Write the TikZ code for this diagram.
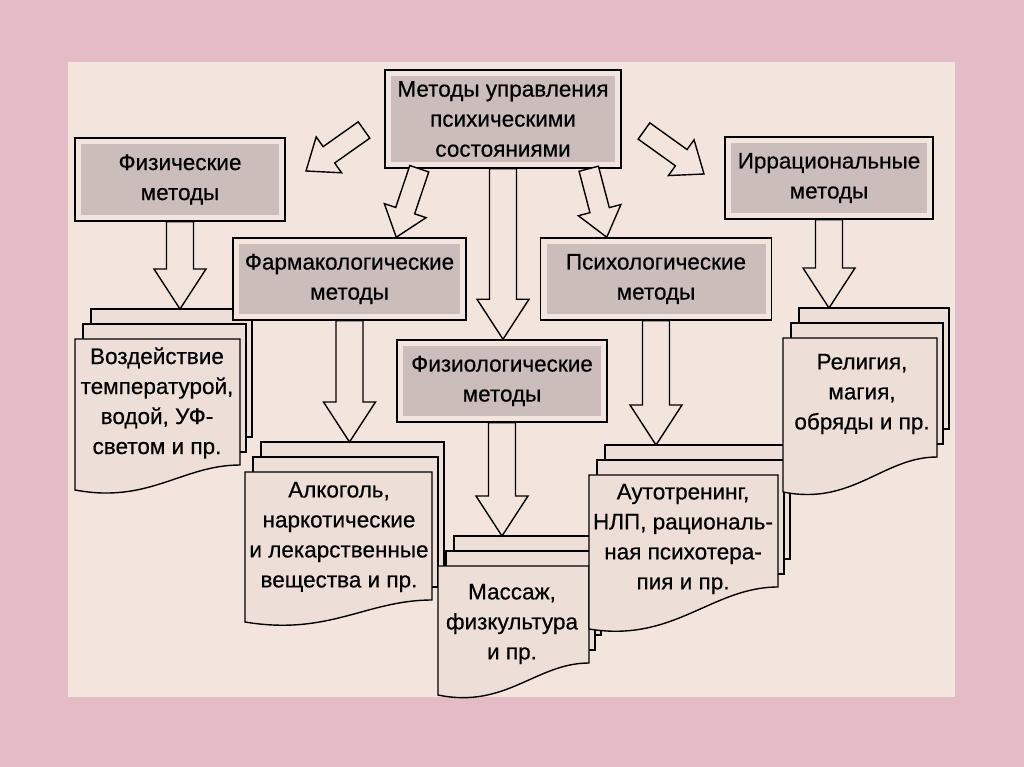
\documentclass[tikz,border=0pt]{standalone}
\usepackage{fontspec}
\setmainfont[FakeBold=0.5]{Liberation Sans}
\usetikzlibrary{calc}

\definecolor{bgpink}{RGB}{227,188,197}
\definecolor{panel}{RGB}{244,228,222}
\definecolor{boxgrey}{RGB}{203,189,186}
\definecolor{sheetfill}{RGB}{237,222,216}

\newcommand\lbl{\fontsize{22.5}{30}\selectfont}

% stack of three sheets: name, left, top, right, right bottom, left bottom (pixels)
\newcommand\docstack[6]{%
  \draw[sheet] (#2+16,-#3+30) rectangle (#4+12,-#5+28);
  \draw[sheet] (#2+8,-#3+15) rectangle (#4+6,-#5+13);
  \draw[sheet] (#2,-#3) -- (#4,-#3) -- (#4,-#5)
    .. controls ({#4-0.35*(#4-#2)},-#5) and ({#2+0.45*(#4-#2)},{-#6-14}) .. (#2,-#6) -- cycle;
  \coordinate (#1-top) at ({(#2+#4)/2},-#3+30);
}

\begin{document}
\begin{tikzpicture}[x=1pt, y=1pt,
    box/.style={draw, line width=1.5pt, fill=panel, inner sep=0pt, align=center, font=\lbl,
      path picture={\fill[boxgrey] ([shift={(6,6)}]path picture bounding box.south west)
        rectangle ([shift={(-6,-6)}]path picture bounding box.north east);}},
    sheet/.style={draw, line width=1.4pt, fill=sheetfill, line join=miter},
    doctext/.style={align=center, font=\lbl, inner sep=0pt},
    big/.code={\def\aw{13.5}\def\ah{26}\def\al{40}},
    small/.code={\def\aw{10}\def\ah{22}\def\al{28}},
    barrow/.style={draw, line width=1.4pt, fill=panel, line join=miter,
      to path={let \p1=(\tikztostart), \p2=(\tikztotarget),
        \n1={atan2(\y2-\y1,\x2-\x1)}, \n2={veclen(\x2-\x1,\y2-\y1)} in
        ($(\p1)+(\n1+90:\aw)$) -- ($(\p1)+(\n1:\n2-\al)+(\n1+90:\aw)$)
        -- ($(\p1)+(\n1:\n2-\al)+(\n1+90:\ah)$) -- (\p2)
        -- ($(\p1)+(\n1:\n2-\al)+(\n1-90:\ah)$) -- ($(\p1)+(\n1:\n2-\al)+(\n1-90:\aw)$)
        -- ($(\p1)+(\n1-90:\aw)$) -- cycle}}]

  \fill[bgpink] (0,0) rectangle (1024,-767);
  \useasboundingbox (0,0) rectangle (1024,-767);
  \fill[panel] (68,-62) rectangle (955,-697);

  % sheets
  \docstack{vozd}{75}{339}{240}{465}{490}
  \docstack{alk}{245}{472}{432}{600}{622}
  \docstack{mass}{438}{566}{589}{663}{695}
  \docstack{auto}{589}{475}{778}{587}{629}
  \docstack{rel}{783}{338}{937}{457}{492}

  \node[doctext] (vozd) at (157,-403) {Воздействие\\температурой,\\водой, УФ-\\светом и пр.};
  \node[doctext] (alk) at (339,-537) {Алкоголь,\\наркотические\\и лекарственные\\вещества и пр.};
  \node[doctext] (mass) at (512,-624) {Массаж,\\физкультура\\и пр.};
  \node[doctext] (auto) at (683,-539) {Аутотренинг,\\НЛП, рациональ-\\ная психотера-\\пия и пр.};
  \node[doctext] (rel) at (862,-394) {Религия,\\магия,\\обряды и пр.};

  % boxes
  \node[box, minimum width=236pt, minimum height=98pt] (upr) at (503,-119) {Методы управления\\психическими\\состояниями};
  \node[box, minimum width=210pt, minimum height=83pt] (fiz) at (180,-179.5) {Физические\\методы};
  \node[box, minimum width=208pt, minimum height=82pt] (irr) at (829,-178) {Иррациональные\\методы};
  \node[box, minimum width=233pt, minimum height=82pt] (farm) at (349.5,-279) {Фармакологические\\методы};
  \node[box, minimum width=231pt, minimum height=82pt] (psih) at (656,-279) {Психологические\\методы};
  \node[box, minimum width=210pt, minimum height=82pt] (fiziol) at (502,-381) {Физиологические\\методы};

  % arrows
  \coordinate (lt) at (364,-130);
  \coordinate (lh) at (306,-171);
  \coordinate (rt) at (644,-131);
  \coordinate (rh) at (704,-174);
  \draw[barrow, small] (lt) to (lh);
  \draw[barrow, small] (rt) to (rh);
  \draw[barrow, small] ([xshift=35pt]upr.south west) to ([xshift=164pt]farm.north west);
  \draw[barrow, small] ([xshift=-33pt]upr.south east) to ([xshift=67pt]psih.north west);
  \draw[barrow, big] (upr.south) to (upr.south |- fiziol.north);
  \draw[barrow, big] (fiz.south) to (fiz.south |- vozd-top);
  \draw[barrow, big] (farm.south) to (farm.south |- alk-top);
  \draw[barrow, big] (fiziol.south) to (fiziol.south |- mass-top);
  \draw[barrow, big] (psih.south) to (psih.south |- auto-top);
  \draw[barrow, big] (irr.south) to (irr.south |- rel-top);
\end{tikzpicture}
\end{document}
